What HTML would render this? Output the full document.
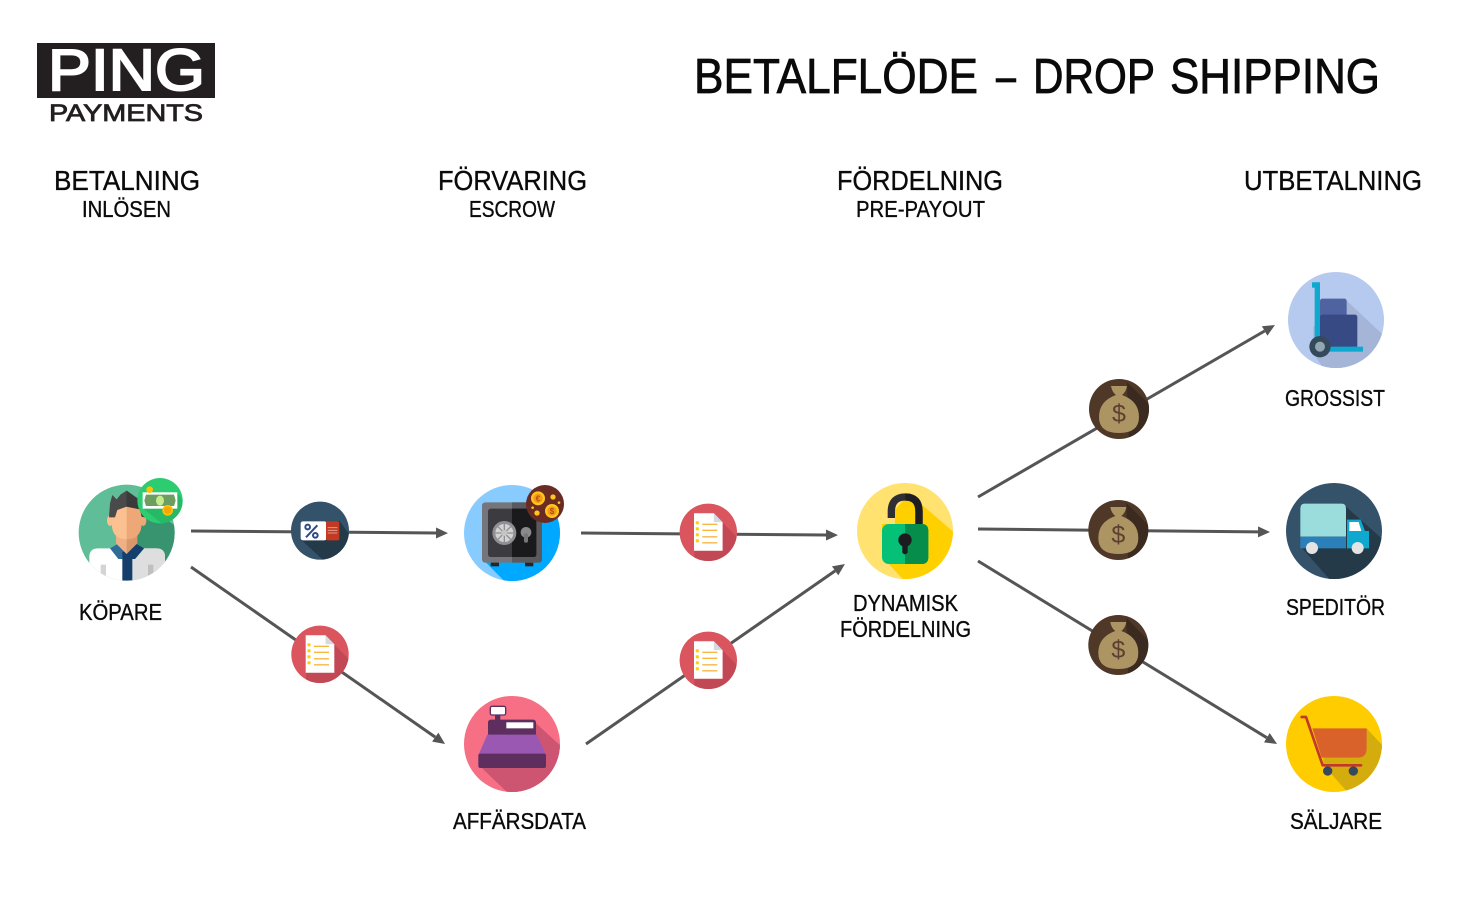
<!DOCTYPE html>
<html lang="sv"><head><meta charset="utf-8"><title>Betalflöde – Drop Shipping</title>
<style>
html,body{margin:0;padding:0;background:#fff;width:1475px;height:903px;overflow:hidden}
svg{display:block}
text{font-family:"Liberation Sans",sans-serif;fill:#0a0a0a}
.t{font-size:49px;stroke:#0a0a0a;stroke-width:.8px}
.h{font-size:27.6px;stroke:#0a0a0a;stroke-width:.35px}
.s,.l{font-size:22.8px;stroke:#0a0a0a;stroke-width:.35px}
</style></head><body>
<svg width="1475" height="903" viewBox="0 0 1475 903" xmlns="http://www.w3.org/2000/svg">
<defs>
<marker id="a" markerUnits="userSpaceOnUse" markerWidth="14" markerHeight="12" refX="0" refY="5.5" orient="auto"><path d="M0 0L12 5.5L0 11z" fill="#555"/></marker>
<clipPath id="cd"><circle r="28.700"/></clipPath>
<clipPath id="cb"><circle r="30"/></clipPath>
<g id="doc">
<circle r="28.700" fill="#db555e"/>
<path clip-path="url(#cd)" d="M5-19L40 16V40H-14V18.500z" fill="#c14854"/>
<path d="M-14.300-19H5.500L14.300-10V18.500H-14.300z" fill="#fff"/>
<path d="M5.500-19L14.300-10H5.500z" fill="#d4dbe0"/>
<g fill="#ffcf00"><rect x="-12.500" y="-11" width="3" height="3"/><rect x="-12.500" y="-5" width="3" height="3"/><rect x="-12.500" y="1" width="3" height="3"/><rect x="-12.500" y="7" width="3" height="3"/></g>
<g stroke="#f8b643" stroke-width="1.300"><path d="M-6-8H9M-6-2H9M-6 4.500H9M-6 10.500H9"/></g>
</g>
<g id="bag">
<circle r="30" fill="#4f3827"/>
<path clip-path="url(#cb)" d="M8-27L40 5V40H10z" fill="#3a2a1f"/>
<path d="M-8-23H8Q7-17 3-14Q20-8 20 8Q20 24 0 24Q-20 24-20 8Q-20-8-3-14Q-7-17-8-23z" fill="#ac9563"/>
<text x="0" y="13" text-anchor="middle" style="font-size:25px;fill:#5d4030">$</text>
</g>
<clipPath id="c1"><circle cx="200" cy="218" r="144"/></clipPath>
<clipPath id="c2"><circle cx="186" cy="189" r="144"/></clipPath>
<clipPath id="c3"><circle cx="186" cy="177" r="144"/></clipPath>
<clipPath id="c4"><circle cx="198" cy="180" r="144"/></clipPath>
<clipPath id="c5"><circle cx="192" cy="168" r="144"/></clipPath>
<clipPath id="c7"><circle cx="192" cy="177" r="144"/></clipPath>
<clipPath id="c8"><circle cx="780" cy="212" r="87"/></clipPath>
<clipPath id="c10"><circle cx="195" cy="483" r="144"/></clipPath>
</defs>

<!-- connectors -->
<g stroke="#555" stroke-width="3" fill="none">
<line x1="191" y1="531" x2="436" y2="533" marker-end="url(#a)"/>
<line x1="581" y1="533" x2="826" y2="535" marker-end="url(#a)"/>
<line x1="191" y1="567" x2="435.200" y2="737.100" marker-end="url(#a)"/>
<line x1="586" y1="744" x2="835.100" y2="570.900" marker-end="url(#a)"/>
<line x1="978" y1="497" x2="1264.600" y2="331" marker-end="url(#a)"/>
<line x1="978" y1="529" x2="1258" y2="531.900" marker-end="url(#a)"/>
<line x1="978" y1="561" x2="1266.800" y2="737.700" marker-end="url(#a)"/>
</g>

<!-- logo -->
<rect x="37" y="43" width="178" height="55" fill="#231f20"/>
<text x="48" y="90" textLength="157" lengthAdjust="spacingAndGlyphs" style="font-size:58px;fill:#fff;stroke:#fff;stroke-width:2px">PING</text>
<text x="49" y="121" textLength="154" lengthAdjust="spacingAndGlyphs" style="font-size:24.500px;fill:#231f20;stroke:#231f20;stroke-width:.8px">PAYMENTS</text>

<!-- headings -->
<text class="t" x="694" y="93" textLength="284" lengthAdjust="spacingAndGlyphs">BETALFLÖDE</text>
<text class="t" x="996" y="93" textLength="20" lengthAdjust="spacingAndGlyphs">–</text>
<text class="t" x="1033" y="93" textLength="122" lengthAdjust="spacingAndGlyphs">DROP</text>
<text class="t" x="1170" y="93" textLength="210" lengthAdjust="spacingAndGlyphs">SHIPPING</text>
<text class="h" x="54" y="190" textLength="146" lengthAdjust="spacingAndGlyphs">BETALNING</text>
<text class="s" x="82" y="217" textLength="89" lengthAdjust="spacingAndGlyphs">INLÖSEN</text>
<text class="h" x="438" y="190" textLength="149" lengthAdjust="spacingAndGlyphs">FÖRVARING</text>
<text class="s" x="469" y="217" textLength="86" lengthAdjust="spacingAndGlyphs">ESCROW</text>
<text class="h" x="837" y="190" textLength="166" lengthAdjust="spacingAndGlyphs">FÖRDELNING</text>
<text class="s" x="856" y="217" textLength="129" lengthAdjust="spacingAndGlyphs">PRE-PAYOUT</text>
<text class="h" x="1244" y="190" textLength="178" lengthAdjust="spacingAndGlyphs">UTBETALNING</text>

<!-- labels -->
<text class="l" x="79" y="620" textLength="83" lengthAdjust="spacingAndGlyphs">KÖPARE</text>
<text class="l" x="853" y="611" textLength="105" lengthAdjust="spacingAndGlyphs">DYNAMISK</text>
<text class="l" x="840" y="637" textLength="131" lengthAdjust="spacingAndGlyphs">FÖRDELNING</text>
<text class="l" x="453" y="829" textLength="133" lengthAdjust="spacingAndGlyphs">AFFÄRSDATA</text>
<text class="l" x="1285" y="406" textLength="100" lengthAdjust="spacingAndGlyphs">GROSSIST</text>
<text class="l" x="1286" y="615" textLength="99" lengthAdjust="spacingAndGlyphs">SPEDITÖR</text>
<text class="l" x="1290" y="829" textLength="92" lengthAdjust="spacingAndGlyphs">SÄLJARE</text>

<!-- buyer + coupon -->
<g transform="translate(60,460) scale(.33333)">
<circle cx="200" cy="218" r="144" fill="#5fbd97"/>
<g clip-path="url(#c1)">
<path d="M245 130L350 200V362H200V130z" fill="#38946f"/>
<path d="M88 362V290Q88 265 115 265H288Q315 265 315 290V362z" fill="#fff"/>
<path d="M200 265H288Q315 265 315 290V362H200z" fill="#dedede"/>
<rect y="362" x="40" width="320" height="40" fill="#fff"/>
<rect x="122" y="314" width="16" height="40" fill="#d4d4d4"/>
<rect x="264" y="314" width="16" height="36" fill="#bfbfbf"/>
<path d="M150 265L180 248H222L252 265L225 297H175z" fill="#2f6c97"/>
<path d="M200 248H222L252 265L225 297H200z" fill="#143e6b"/>
<rect x="187" y="275" width="30" height="87" fill="#153f6b"/>
<path d="M168 225H232V250L200 282L168 250z" fill="#d9976a"/>
<path d="M168 225H200V282L168 250z" fill="#efb085"/>
<ellipse cx="150" cy="182" rx="9" ry="16" fill="#fcc191"/><ellipse cx="250" cy="182" rx="9" ry="16" fill="#eea878"/>
<path d="M155 140H245V188Q245 238 200 238Q155 238 155 188z" fill="#eea878"/>
<path d="M155 140H200V238Q155 238 155 188z" fill="#fcc191"/>
<path d="M147 172L150 130L157 105L170 118L182 103L200 92L225 110L240 120L255 135V172L245 170L240 148L200 140L172 150L165 172z" fill="#4a4a4a"/>
<path d="M200 92L225 110L240 120L255 135V172L245 170L240 148L200 140z" fill="#3a3a3a"/>
</g>
<circle cx="300" cy="122" r="68" fill="#2ecc71"/>
<path d="M248 145L352 97L368 122A68 68 0 0 1 305 190z" fill="#27ba66"/>
<rect x="248" y="97" width="104" height="49" fill="#fff"/>
<path d="M258 104H342L347 122L342 138H258L253 122z" fill="#6e9d62"/>
<ellipse cx="300" cy="122" rx="12" ry="15" fill="#c4eb8c"/>
<circle cx="323" cy="151" r="16" fill="#ffc107"/><circle cx="323" cy="151" r="11" fill="#f5a800"/>
<circle cx="269" cy="89" r="10" fill="#ffc107"/>
<circle cx="780" cy="212" r="87" fill="#34526a"/>
<path clip-path="url(#c8)" d="M722 238L838 182L880 240V310H800z" fill="#253a49"/>
<rect x="722" y="184" width="78" height="57" rx="7" fill="#fff"/>
<rect x="798" y="184" width="40" height="57" rx="5" fill="#c23a22"/>
<g stroke="#e59a8a" stroke-width="3"><path d="M803 203H832M803 211H832M803 219H832"/></g>
<g stroke="#2e4a85" stroke-width="6" fill="none"><path d="M738 232L772 196"/><circle cx="743" cy="201" r="7"/><circle cx="766" cy="226" r="7"/></g>
</g>
<use href="#doc" x="320" y="654.300"/>

<!-- safe -->
<g transform="translate(450,470) scale(.33333)">
<circle cx="186" cy="189" r="144" fill="#88ccff"/>
<path clip-path="url(#c2)" d="M270 100L360 160V340H170L100 270z" fill="#00a8ff"/>
<rect x="122" y="275" width="25" height="14" fill="#26262a"/><rect x="225" y="275" width="25" height="14" fill="#26262a"/>
<rect x="96" y="97" width="180" height="181" rx="10" fill="#75757b"/>
<path d="M186 97H266Q276 97 276 107V268Q276 278 266 278H186z" fill="#5a5a5e"/>
<rect x="114" y="116" width="145" height="145" rx="8" fill="#3c3b40"/>
<path d="M186 116H251Q259 116 259 124V253Q259 261 251 261H186z" fill="#1a1a1c"/>
<circle cx="163" cy="189" r="36" fill="#8f8f94"/><circle cx="163" cy="189" r="27" fill="#d3d3d3"/>
<g stroke="#8f8f94" stroke-width="4"><path d="M163 162V216M136 189H190M144 170L182 208M182 170L144 208"/></g>
<circle cx="163" cy="189" r="9" fill="#c5c5c5"/>
<circle cx="228" cy="187" r="16" fill="#8a8a8e"/><rect x="222" y="190" width="12" height="28" rx="5" fill="#77777b"/>
<circle cx="285" cy="102" r="57" fill="#6a2b23"/>
<g fill="#ffc619"><circle cx="264" cy="85" r="21"/><circle cx="306" cy="123" r="21"/><circle cx="309" cy="81" r="8"/><circle cx="261" cy="129" r="8"/><circle cx="327" cy="98" r="4"/><circle cx="248" cy="113" r="4"/></g>
<circle cx="264" cy="85" r="14" fill="#f39a1c"/><circle cx="306" cy="123" r="14" fill="#f39a1c"/>
<text x="264" y="94" text-anchor="middle" style="font-size:24px;fill:#b54d14;font-weight:700">€</text>
<text x="306" y="132" text-anchor="middle" style="font-size:24px;fill:#b54d14;font-weight:700">$</text>
</g>
<use href="#doc" x="708.300" y="532.300"/>
<use href="#doc" x="708.300" y="660.300"/>

<!-- register -->
<g transform="translate(450,685) scale(.33333)">
<circle cx="186" cy="177" r="144" fill="#f66f85"/>
<path clip-path="url(#c3)" d="M258 115L340 190V330H180L86 240z" fill="#cd5572"/>
<rect x="135" y="85" width="16" height="25" fill="#5e2e5f"/>
<rect x="121" y="64" width="46" height="26" rx="5" fill="#fff" stroke="#5e2e5f" stroke-width="4"/>
<rect x="114" y="104" width="144" height="50" rx="8" fill="#5e2e5f"/>
<rect x="169" y="112" width="81" height="18" fill="#fff"/>
<path d="M112 149H260L288 208H86z" fill="#9a58b3"/>
<rect x="85" y="206" width="203" height="43" rx="6" fill="#5e2e5f"/>
</g>

<!-- lock -->
<g transform="translate(840,370) scale(.33333)">
<circle cx="195" cy="483" r="144" fill="#ffe26f"/>
<path clip-path="url(#c10)" d="M165 420L196 385L235 395L345 490V640H200L126 560V462H165z" fill="#ffd000"/>
<path d="M154 444V425Q154 381 196 381Q237 381 237 425V470" fill="none" stroke="#2f2f33" stroke-width="22"/>
<path d="M196 381Q237 381 237 425V470" fill="none" stroke="#1e1e22" stroke-width="22"/>
<rect x="126" y="462" width="139" height="120" rx="20" fill="#05c177"/>
<path d="M195 462H245Q265 462 265 482V562Q265 582 245 582H195z" fill="#078d4b"/>
<circle cx="195" cy="510" r="20" fill="#1c1c20"/>
<path d="M187 515H203V548Q195 558 187 548z" fill="#1c1c20"/>
</g>

<use href="#bag" x="1119" y="409"/>
<use href="#bag" x="1118.300" y="530"/>
<use href="#bag" x="1118.300" y="645"/>

<!-- dolly -->
<g transform="translate(1270,260) scale(.33333)">
<circle cx="198" cy="180" r="144" fill="#b6c9ef"/>
<path clip-path="url(#c4)" d="M228 120L345 230V340H170L130 280V200z" fill="#a4b5d8"/>
<rect x="150" y="116" width="80" height="60" rx="7" fill="#4f63a1"/>
<rect x="150" y="164" width="112" height="100" rx="7" fill="#384a84"/>
<rect x="126" y="67" width="24" height="16" fill="#0fa9cf"/>
<rect x="134" y="67" width="16" height="200" fill="#0fa9cf"/>
<rect x="150" y="260" width="129" height="15" fill="#0fa9cf"/>
<circle cx="150" cy="260" r="32" fill="#34495a"/><circle cx="150" cy="260" r="15" fill="#93a7b3"/>
</g>

<!-- truck -->
<g transform="translate(1270,475) scale(.33333)">
<circle cx="192" cy="168" r="144" fill="#34526a"/>
<path clip-path="url(#c5)" d="M228 95L340 195V320H185L92 215z" fill="#253a49"/>
<path d="M91 185V100Q91 86 105 86H214Q228 86 228 100V185z" fill="#9bdcdc"/>
<rect x="91" y="185" width="137" height="35" fill="#2b80b9"/>
<path d="M231 134H272L285 168H297V220H231z" fill="#0fa9d0"/>
<path d="M238 141H266L274 168H238z" fill="#fff"/>
<circle cx="126" cy="219" r="18" fill="#e4e4e4"/><circle cx="263" cy="219" r="18" fill="#e4e4e4"/>
</g>

<!-- cart -->
<g transform="translate(1270,685) scale(.33333)">
<circle cx="192" cy="177" r="144" fill="#ffcc00"/>
<path clip-path="url(#c7)" d="M290 130L345 190V330H240L160 240L160 220z" fill="#d4ac0d"/>
<path d="M127 130H290V190Q290 218 262 218H155z" fill="#d9622b"/>
<path d="M95 96H108L158 241H273" fill="none" stroke="#c0392b" stroke-width="8" stroke-linejoin="round" stroke-linecap="round"/>
<circle cx="173" cy="258" r="14" fill="#34495e"/><circle cx="250" cy="258" r="14" fill="#34495e"/>
</g>
</svg>
</body></html>
